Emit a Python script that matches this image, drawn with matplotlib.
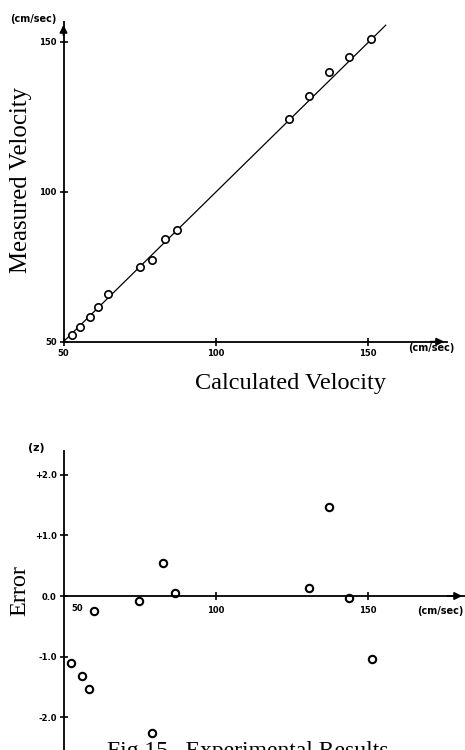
import matplotlib
matplotlib.use("Agg")
import matplotlib.pyplot as plt

W, H = 465, 750

# top panel: calculated vs measured velocity (cm/sec)
calc = [52.7, 55.3, 58.6, 61.3, 64.5, 75.2, 79.2, 83.4, 87.3,
        124.3, 130.9, 137.3, 143.8, 151.1]
meas = [52.2, 55.0, 58.3, 61.7, 65.9, 74.8, 77.2, 84.3, 87.2,
        124.2, 131.9, 140.0, 145.0, 150.8]
fit_x = [50, 156]
fit_y = [50, 155.5]

# bottom panel: error (%) vs calculated velocity
err_x = [52.4, 56.0, 58.5, 60.0, 74.9, 79.0, 82.6, 86.7,
         130.8, 137.4, 144.0, 151.6]
err_y = [-1.10, -1.31, -1.53, -0.25, -0.09, -2.25, 0.54, 0.05,
         0.14, 1.46, -0.04, -1.03]

ticks_top = [50, 100, 150]
err_ticks = [-2, -1, 0, 1, 2]
err_ticklabels = ["-2.0", "-1.0", "0.0", "+1.0", "+2.0"]

SERIF = "Liberation Serif"
TICKFONT = dict(family="DejaVu Sans", weight="bold", size=6)

fig = plt.figure(figsize=(W / 100, H / 100), dpi=100)


def px_axes(left, top, right, bottom):
    return fig.add_axes([left / W, 1 - bottom / H,
                         (right - left) / W, (bottom - top) / H])


def ftext(x, y, s, **kw):
    fig.text(x / W, 1 - y / H, s, **kw)


def style(ax):
    for s in ("top", "right"):
        ax.spines[s].set_visible(False)
    for s in ("left", "bottom"):
        ax.spines[s].set_linewidth(1.3)
    ax.tick_params(direction="inout", length=6, width=1.2, pad=2)
    for lab in ax.get_xticklabels() + ax.get_yticklabels():
        lab.set(**TICKFONT)


# ---- top panel
ax1 = px_axes(63.5, 22, 447, 341.7)
ax1.set_xlim(50, 50 + (447 - 63.5) / 3.04)
ax1.set_ylim(50, 50 + (341.7 - 22) / 3.0)
ax1.plot(fit_x, fit_y, color="black", lw=0.9)
ax1.plot(calc, meas, "o", ms=5.3, mfc="white", mec="black", mew=1.2,
         clip_on=False)
ax1.set_xticks(ticks_top)
ax1.set_yticks(ticks_top)
ax1.set_xticklabels([str(t) for t in ticks_top])
ax1.set_yticklabels([str(t) for t in ticks_top])
style(ax1)
ax1.annotate("", xy=(1, 0), xytext=(0.95, 0), xycoords="axes fraction",
             arrowprops=dict(arrowstyle="-|>", color="black", lw=1.3,
                             mutation_scale=11))
ax1.annotate("", xy=(0, 1), xytext=(0, 0.95), xycoords="axes fraction",
             arrowprops=dict(arrowstyle="-|>", color="black", lw=1.3,
                             mutation_scale=11))

ftext(33, 19, "(cm/sec)", ha="center", va="center",
      family="DejaVu Sans", weight="bold", size=7)
ftext(431, 348, "(cm/sec)", ha="center", va="center",
      family="DejaVu Sans", weight="bold", size=7)
ftext(21, 180, "Measured Velocity", rotation=90, ha="center", va="center",
      family=SERIF, size=17.8)
ftext(290, 384, "Calculated Velocity", ha="center", va="center",
      family=SERIF, size=17.5)

# ---- bottom panel
ax2 = px_axes(63.5, 451, 465, 750)
ax2.set_xlim(50, 50 + (465 - 63.5) / 3.04)
ax2.set_ylim(-(750 - 596) / 60.7, (596 - 451) / 60.7)
ax2.plot(err_x, err_y, "o", ms=5.3, mfc="white", mec="black", mew=1.5,
         clip_on=False)
ax2.spines["bottom"].set_position(("data", 0))
ax2.set_xticks([100, 150])
ax2.set_xticklabels(["100", "150"])
ax2.set_yticks(err_ticks)
ax2.set_yticklabels(err_ticklabels)
style(ax2)
ax2.tick_params(axis="x", pad=4)
ax2.text(54.5, -0.2, "50", ha="center", va="center", **TICKFONT)
ax2.annotate("", xy=(1, 0), xytext=(0.95, 0),
             xycoords=ax2.get_yaxis_transform(),
             arrowprops=dict(arrowstyle="-|>", color="black", lw=1.3,
                             mutation_scale=11))

ftext(440, 611, "(cm/sec)", ha="center", va="center",
      family="DejaVu Sans", weight="bold", size=7)
ftext(36, 448, "(z)", ha="center", va="center",
      family="DejaVu Sans", weight="bold", size=8)
ftext(19.5, 591, "Error", rotation=90, ha="center", va="center",
      family=SERIF, size=17.5)
ftext(248, 741, "Fig.15   Experimental Results", ha="center", va="top",
      family=SERIF, size=17)

fig.savefig("out.png", dpi=100)
